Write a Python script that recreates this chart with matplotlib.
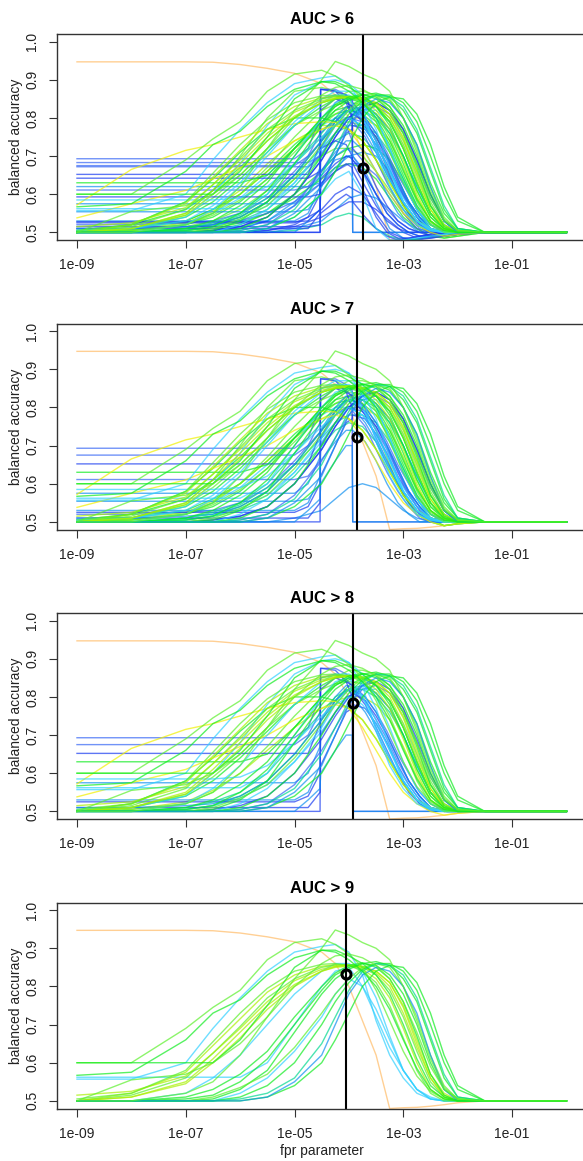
import numpy as np
import matplotlib
matplotlib.use("Agg")
import matplotlib.pyplot as plt
from matplotlib.ticker import NullLocator

plt.rcParams["font.family"] = ["Liberation Sans", "DejaVu Sans"]

# panel thresholds and the chosen operating point of each panel
THRESHOLDS = [6, 7, 8, 9]
SELECTED_FPR = [1.8e-4, 1.4e-4, 1.17e-4, 8.7e-5]
SELECTED_ACC = [0.668, 0.723, 0.783, 0.833]

X_TICKS = [1e-9, 1e-7, 1e-5, 1e-3, 1e-1]
X_TICK_LABELS = ["1e-09", "1e-07", "1e-05", "1e-03", "1e-01"]
Y_TICKS = [0.5, 0.6, 0.7, 0.8, 0.9, 1.0]
Y_TICK_LABELS = ["0.5", "0.6", "0.7", "0.8", "0.9", "1.0"]

# log10(fpr) grid for the smooth curves, and for the staircase (blue) curves
LOG_FPR = [-9, -8, -7, -6.5, -6, -5.5, -5, -4.5, -4.25, -4, -3.75, -3.5, -3.25, -3, -2.75, -2.5, -2.25, -2, -1.5, 0]
STEP_LOG_FPR = [-9, -5, -4.75, -4.53, -4.52, -4.25, -4.05, -3.94, -3.93, -3.7, -3.5, -3.3, -3.1, -2.9, -2.7,
                -2.5, -2.2, 0]

PALETTE = {"blue": "#1a3cf0", "blue2": "#3565f5", "azure": "#1090f0", "cyan": "#30d0ff",
           "teal": "#00d890", "green": "#10ec20", "lgreen": "#5cf02c", "ygreen": "#a8f000",
           "yellow": "#f0f000", "orange": "#ffc070"}

REFERENCE_ACC = [0.947, 0.947, 0.947, 0.946, 0.94, 0.93, 0.917, 0.89, 0.86, 0.80, 0.71, 0.62, 0.48,
                 0.482, 0.483, 0.486, 0.49, 0.495, 0.50, 0.50]

EARLY_ACC = [
    [0.50, 0.50, 0.52, 0.55, 0.62, 0.72, 0.82, 0.90, 0.948, 0.935, 0.915, 0.90, 0.87, 0.80, 0.71, 0.61, 0.535, 0.505, 0.50, 0.50],
    [0.60, 0.60, 0.69, 0.745, 0.79, 0.87, 0.915, 0.925, 0.91, 0.885, 0.85, 0.79, 0.71, 0.63, 0.565, 0.525, 0.505, 0.50, 0.50, 0.50],
    [0.60, 0.60, 0.60, 0.60, 0.66, 0.75, 0.85, 0.895, 0.89, 0.87, 0.84, 0.80, 0.74, 0.66, 0.585, 0.53, 0.505, 0.50, 0.50, 0.50],
    [0.567, 0.575, 0.66, 0.73, 0.765, 0.83, 0.875, 0.895, 0.895, 0.88, 0.86, 0.83, 0.78, 0.70, 0.61, 0.54, 0.51, 0.50, 0.50, 0.50],
    [0.50, 0.555, 0.57, 0.60, 0.65, 0.72, 0.80, 0.86, 0.88, 0.885, 0.875, 0.855, 0.82, 0.76, 0.68, 0.59, 0.53, 0.505, 0.50, 0.50],
]
EARLY_SCORE = [9.6, 9.4, 9.2, 9.3, 9.1]
EARLY_COLOR = ["lgreen", "lgreen", "green", "green", "lgreen"]

CYAN_ACC = [
    [0.557, 0.557, 0.60, 0.69, 0.77, 0.84, 0.89, 0.905, 0.91, 0.89, 0.83, 0.71, 0.62, 0.56, 0.52, 0.505, 0.50, 0.50, 0.50, 0.50],
    [0.562, 0.562, 0.562, 0.562, 0.562, 0.60, 0.70, 0.80, 0.84, 0.85, 0.80, 0.72, 0.64, 0.58, 0.53, 0.51, 0.50, 0.50, 0.50, 0.50],
    [0.50, 0.50, 0.50, 0.50, 0.52, 0.56, 0.63, 0.72, 0.78, 0.82, 0.80, 0.74, 0.66, 0.58, 0.53, 0.505, 0.50, 0.50, 0.50, 0.50],
    [0.50, 0.50, 0.52, 0.56, 0.62, 0.70, 0.78, 0.84, 0.86, 0.86, 0.84, 0.77, 0.67, 0.58, 0.53, 0.505, 0.50, 0.50, 0.50, 0.50],
    [0.505, 0.51, 0.54, 0.60, 0.68, 0.78, 0.86, 0.895, 0.90, 0.89, 0.86, 0.80, 0.72, 0.63, 0.56, 0.52, 0.50, 0.50, 0.50, 0.50],
    [0.505, 0.51, 0.53, 0.57, 0.63, 0.71, 0.79, 0.85, 0.87, 0.87, 0.85, 0.80, 0.72, 0.63, 0.56, 0.51, 0.50, 0.50, 0.50, 0.50],
    [0.50, 0.50, 0.50, 0.50, 0.50, 0.51, 0.54, 0.60, 0.64, 0.66, 0.60, 0.51, 0.48, 0.48, 0.485, 0.49, 0.495, 0.50, 0.50, 0.50],
    [0.585, 0.585, 0.585, 0.585, 0.59, 0.62, 0.68, 0.75, 0.78, 0.80, 0.78, 0.73, 0.66, 0.59, 0.54, 0.51, 0.50, 0.50, 0.50, 0.50],
]
CYAN_SCORE = [9.5, 9.2, 9.1, 9.3, 8.7, 7.3, 6.3, 8.2]
CYAN_COLOR = ["cyan", "cyan", "cyan", "cyan", "cyan", "cyan", "cyan", "cyan"]

BUNDLE_ACC = [
    [0.50, 0.52, 0.575, 0.645, 0.715, 0.785, 0.83, 0.853, 0.857, 0.855, 0.845, 0.82, 0.77, 0.69, 0.60, 0.53, 0.505, 0.50, 0.50, 0.50],
    [0.50, 0.515, 0.56, 0.625, 0.695, 0.77, 0.82, 0.85, 0.856, 0.857, 0.85, 0.83, 0.79, 0.72, 0.63, 0.55, 0.51, 0.50, 0.50, 0.50],
    [0.515, 0.525, 0.565, 0.625, 0.69, 0.76, 0.815, 0.845, 0.853, 0.855, 0.852, 0.835, 0.80, 0.73, 0.64, 0.56, 0.515, 0.50, 0.50, 0.50],
    [0.50, 0.51, 0.55, 0.61, 0.68, 0.75, 0.805, 0.84, 0.85, 0.853, 0.85, 0.84, 0.81, 0.75, 0.66, 0.57, 0.52, 0.502, 0.50, 0.50],
    [0.505, 0.52, 0.58, 0.655, 0.73, 0.795, 0.84, 0.858, 0.86, 0.855, 0.84, 0.81, 0.75, 0.665, 0.58, 0.52, 0.50, 0.50, 0.50, 0.50],
    [0.50, 0.51, 0.545, 0.60, 0.665, 0.74, 0.80, 0.84, 0.852, 0.856, 0.853, 0.84, 0.81, 0.745, 0.65, 0.56, 0.51, 0.50, 0.50, 0.50],
]
BUNDLE_SCORE = [9.5, 9.4, 9.3, 9.2, 9.6, 9.1]
BUNDLE_COLOR = ["ygreen", "lgreen", "ygreen", "ygreen", "lgreen", "ygreen"]

LATE_ACC = [
    [0.50, 0.50, 0.50, 0.505, 0.53, 0.58, 0.68, 0.78, 0.82, 0.845, 0.86, 0.865, 0.855, 0.82, 0.76, 0.66, 0.56, 0.51, 0.50, 0.50],
    [0.50, 0.50, 0.505, 0.515, 0.55, 0.61, 0.70, 0.79, 0.83, 0.85, 0.86, 0.855, 0.83, 0.78, 0.70, 0.60, 0.53, 0.505, 0.50, 0.50],
    [0.50, 0.50, 0.50, 0.50, 0.51, 0.54, 0.60, 0.70, 0.76, 0.81, 0.845, 0.86, 0.86, 0.84, 0.79, 0.70, 0.60, 0.53, 0.50, 0.50],
    [0.50, 0.50, 0.50, 0.51, 0.535, 0.57, 0.64, 0.73, 0.78, 0.82, 0.85, 0.86, 0.85, 0.80, 0.72, 0.62, 0.54, 0.505, 0.50, 0.50],
    [0.50, 0.50, 0.51, 0.53, 0.57, 0.63, 0.72, 0.80, 0.835, 0.855, 0.862, 0.85, 0.82, 0.76, 0.67, 0.57, 0.515, 0.50, 0.50, 0.50],
    [0.50, 0.50, 0.50, 0.50, 0.505, 0.52, 0.56, 0.65, 0.72, 0.79, 0.84, 0.86, 0.855, 0.83, 0.77, 0.67, 0.57, 0.51, 0.50, 0.50],
    [0.50, 0.50, 0.50, 0.50, 0.50, 0.51, 0.54, 0.60, 0.66, 0.73, 0.80, 0.84, 0.855, 0.85, 0.81, 0.73, 0.62, 0.54, 0.50, 0.50],
    [0.50, 0.50, 0.50, 0.50, 0.50, 0.51, 0.55, 0.62, 0.70, 0.78, 0.83, 0.85, 0.84, 0.80, 0.73, 0.62, 0.53, 0.50, 0.50, 0.50],
]
LATE_SCORE = [9.4, 9.5, 9.3, 9.2, 9.6, 9.1, 9.3, 9.2]
LATE_COLOR = ["green", "green", "green", "lgreen", "green", "teal", "green", "azure"]

MID_ACC = [
    [0.50, 0.50, 0.50, 0.50, 0.505, 0.52, 0.57, 0.66, 0.72, 0.78, 0.82, 0.83, 0.81, 0.76, 0.68, 0.59, 0.53, 0.505, 0.50, 0.50],
    [0.51, 0.51, 0.515, 0.52, 0.54, 0.58, 0.65, 0.74, 0.79, 0.82, 0.83, 0.81, 0.77, 0.70, 0.62, 0.55, 0.51, 0.50, 0.50, 0.50],
    [0.50, 0.50, 0.51, 0.525, 0.55, 0.60, 0.68, 0.76, 0.80, 0.82, 0.82, 0.80, 0.76, 0.70, 0.62, 0.55, 0.51, 0.50, 0.50, 0.50],
    [0.50, 0.51, 0.54, 0.58, 0.64, 0.71, 0.78, 0.83, 0.85, 0.855, 0.85, 0.83, 0.79, 0.72, 0.63, 0.55, 0.51, 0.50, 0.50, 0.50],
    [0.50, 0.505, 0.52, 0.55, 0.60, 0.67, 0.75, 0.82, 0.85, 0.87, 0.87, 0.86, 0.83, 0.77, 0.68, 0.58, 0.52, 0.50, 0.50, 0.50],
    [0.50, 0.52, 0.58, 0.64, 0.71, 0.77, 0.80, 0.80, 0.79, 0.77, 0.74, 0.69, 0.63, 0.57, 0.53, 0.51, 0.50, 0.50, 0.50, 0.50],
    [0.63, 0.63, 0.63, 0.63, 0.63, 0.65, 0.72, 0.80, 0.83, 0.85, 0.85, 0.83, 0.79, 0.72, 0.63, 0.55, 0.51, 0.50, 0.50, 0.50],
    [0.572, 0.665, 0.715, 0.73, 0.75, 0.77, 0.785, 0.79, 0.788, 0.77, 0.72, 0.66, 0.60, 0.55, 0.52, 0.50, 0.49, 0.495, 0.50, 0.50],
    [0.538, 0.575, 0.61, 0.64, 0.67, 0.70, 0.74, 0.77, 0.78, 0.77, 0.74, 0.69, 0.63, 0.57, 0.53, 0.51, 0.50, 0.50, 0.50, 0.50],
    [0.50, 0.50, 0.50, 0.505, 0.515, 0.54, 0.60, 0.69, 0.75, 0.80, 0.83, 0.84, 0.82, 0.77, 0.69, 0.60, 0.53, 0.50, 0.50, 0.50],
]
MID_SCORE = [8.5, 8.3, 8.1, 8.6, 8.4, 8.8, 8.5, 8.1, 8.05, 8.7]
MID_COLOR = ["blue2", "azure", "teal", "green", "lgreen", "green", "green", "yellow", "yellow", "blue"]

FILL_ACC = [
    [0.50, 0.51, 0.53, 0.56, 0.60, 0.66, 0.73, 0.79, 0.81, 0.82, 0.81, 0.78, 0.72, 0.64, 0.56, 0.51, 0.49, 0.495, 0.50, 0.50],
    [0.50, 0.505, 0.515, 0.53, 0.56, 0.61, 0.68, 0.75, 0.78, 0.79, 0.78, 0.75, 0.69, 0.61, 0.54, 0.50, 0.485, 0.49, 0.50, 0.50],
    [0.505, 0.52, 0.56, 0.61, 0.67, 0.74, 0.80, 0.84, 0.85, 0.85, 0.84, 0.81, 0.76, 0.68, 0.59, 0.53, 0.50, 0.50, 0.50, 0.50],
    [0.50, 0.50, 0.51, 0.52, 0.545, 0.59, 0.65, 0.72, 0.76, 0.78, 0.78, 0.76, 0.71, 0.64, 0.57, 0.52, 0.50, 0.50, 0.50, 0.50],
    [0.50, 0.51, 0.545, 0.59, 0.65, 0.72, 0.78, 0.82, 0.835, 0.84, 0.835, 0.81, 0.77, 0.70, 0.61, 0.54, 0.505, 0.50, 0.50, 0.50],
    [0.50, 0.50, 0.505, 0.51, 0.525, 0.55, 0.59, 0.64, 0.67, 0.68, 0.67, 0.64, 0.59, 0.54, 0.51, 0.49, 0.485, 0.49, 0.50, 0.50],
    [0.50, 0.50, 0.50, 0.505, 0.51, 0.53, 0.57, 0.63, 0.67, 0.70, 0.71, 0.70, 0.66, 0.60, 0.54, 0.50, 0.49, 0.495, 0.50, 0.50],
    [0.505, 0.51, 0.525, 0.55, 0.59, 0.65, 0.72, 0.78, 0.80, 0.80, 0.78, 0.73, 0.66, 0.58, 0.53, 0.50, 0.50, 0.50, 0.50, 0.50],
    [0.50, 0.505, 0.525, 0.555, 0.60, 0.66, 0.72, 0.77, 0.79, 0.80, 0.80, 0.78, 0.74, 0.67, 0.59, 0.53, 0.50, 0.50, 0.50, 0.50],
    [0.50, 0.50, 0.50, 0.50, 0.50, 0.505, 0.515, 0.54, 0.56, 0.58, 0.58, 0.56, 0.53, 0.50, 0.485, 0.485, 0.49, 0.495, 0.50, 0.50],
    [0.50, 0.50, 0.505, 0.515, 0.54, 0.58, 0.65, 0.74, 0.79, 0.83, 0.85, 0.86, 0.845, 0.80, 0.73, 0.63, 0.55, 0.51, 0.50, 0.50],
    [0.50, 0.505, 0.52, 0.545, 0.585, 0.64, 0.71, 0.78, 0.81, 0.83, 0.835, 0.83, 0.80, 0.74, 0.66, 0.57, 0.52, 0.50, 0.50, 0.50],
    [0.51, 0.51, 0.515, 0.52, 0.53, 0.55, 0.58, 0.63, 0.66, 0.68, 0.68, 0.65, 0.60, 0.55, 0.51, 0.49, 0.49, 0.495, 0.50, 0.50],
    [0.50, 0.50, 0.505, 0.515, 0.535, 0.57, 0.63, 0.71, 0.76, 0.80, 0.82, 0.82, 0.79, 0.73, 0.65, 0.57, 0.52, 0.50, 0.50, 0.50],
]
FILL_SCORE = [7.5, 6.8, 7.9, 7.2, 8.3, 6.6, 7.0, 7.6, 8.2, 6.3, 8.8, 7.4, 6.9, 8.4]
FILL_COLOR = ["green", "lgreen", "green", "teal", "lgreen", "green", "azure", "cyan", "ygreen", "blue",
              "green", "lgreen", "blue2", "cyan"]

LOW_ACC = [
    [0.50, 0.50, 0.50, 0.50, 0.50, 0.505, 0.52, 0.56, 0.60, 0.62, 0.60, 0.55, 0.50, 0.485, 0.48, 0.485, 0.49, 0.495, 0.50, 0.50],
    [0.50, 0.50, 0.50, 0.50, 0.51, 0.53, 0.58, 0.65, 0.69, 0.70, 0.66, 0.58, 0.51, 0.485, 0.482, 0.487, 0.492, 0.497, 0.50, 0.50],
    [0.50, 0.50, 0.505, 0.515, 0.53, 0.56, 0.62, 0.70, 0.74, 0.76, 0.75, 0.71, 0.64, 0.57, 0.52, 0.50, 0.49, 0.495, 0.50, 0.50],
    [0.52, 0.52, 0.525, 0.53, 0.55, 0.59, 0.66, 0.74, 0.78, 0.80, 0.79, 0.75, 0.68, 0.60, 0.54, 0.51, 0.50, 0.50, 0.50, 0.50],
    [0.50, 0.505, 0.52, 0.54, 0.58, 0.64, 0.72, 0.79, 0.82, 0.83, 0.82, 0.79, 0.73, 0.65, 0.57, 0.52, 0.50, 0.50, 0.50, 0.50],
    [0.50, 0.50, 0.51, 0.52, 0.54, 0.58, 0.64, 0.70, 0.72, 0.72, 0.70, 0.66, 0.61, 0.56, 0.52, 0.50, 0.49, 0.495, 0.50, 0.50],
    [0.50, 0.50, 0.50, 0.50, 0.50, 0.50, 0.51, 0.53, 0.56, 0.59, 0.60, 0.59, 0.56, 0.53, 0.51, 0.50, 0.50, 0.50, 0.50, 0.50],
    [0.50, 0.50, 0.50, 0.505, 0.52, 0.55, 0.60, 0.66, 0.70, 0.72, 0.73, 0.72, 0.69, 0.63, 0.56, 0.51, 0.49, 0.495, 0.50, 0.50],
    [0.50, 0.50, 0.50, 0.505, 0.515, 0.54, 0.60, 0.69, 0.75, 0.80, 0.83, 0.84, 0.82, 0.77, 0.69, 0.60, 0.53, 0.50, 0.50, 0.50],
    [0.50, 0.51, 0.53, 0.56, 0.61, 0.68, 0.74, 0.78, 0.78, 0.77, 0.74, 0.69, 0.62, 0.55, 0.51, 0.49, 0.49, 0.495, 0.50, 0.50],
    [0.50, 0.51, 0.55, 0.61, 0.70, 0.80, 0.87, 0.88, 0.87, 0.85, 0.81, 0.74, 0.65, 0.57, 0.52, 0.50, 0.49, 0.495, 0.50, 0.50],
    [0.50, 0.50, 0.50, 0.50, 0.50, 0.50, 0.505, 0.52, 0.54, 0.55, 0.54, 0.51, 0.49, 0.48, 0.482, 0.49, 0.495, 0.50, 0.50, 0.50],
]
LOW_SCORE = [6.5, 6.8, 7.2, 7.4, 7.6, 6.9, 7.1, 6.6, 7.7, 6.4, 7.8, 6.2]
LOW_COLOR = ["blue", "azure", "teal", "blue2", "green", "lgreen", "azure", "green", "blue", "ygreen", "lgreen", "teal"]

STEP_ACC = [
    [0.693, 0.693, 0.72, 0.80, 0.875, 0.875, 0.86, 0.845, 0.83, 0.80, 0.76, 0.71, 0.65, 0.60, 0.55, 0.52, 0.50, 0.50],
    [0.675, 0.675, 0.70, 0.76, 0.85, 0.86, 0.845, 0.83, 0.82, 0.79, 0.74, 0.69, 0.63, 0.58, 0.54, 0.51, 0.50, 0.50],
    [0.652, 0.652, 0.652, 0.73, 0.82, 0.85, 0.84, 0.83, 0.82, 0.78, 0.72, 0.66, 0.60, 0.55, 0.52, 0.505, 0.50, 0.50],
    [0.525, 0.525, 0.54, 0.60, 0.70, 0.76, 0.80, 0.805, 0.81, 0.79, 0.75, 0.70, 0.64, 0.58, 0.54, 0.51, 0.50, 0.50],
    [0.51, 0.51, 0.51, 0.55, 0.62, 0.70, 0.76, 0.77, 0.78, 0.77, 0.73, 0.68, 0.62, 0.57, 0.53, 0.505, 0.50, 0.50],
    [0.575, 0.575, 0.60, 0.67, 0.74, 0.80, 0.83, 0.825, 0.82, 0.80, 0.76, 0.70, 0.64, 0.58, 0.54, 0.51, 0.50, 0.50],
    [0.53, 0.53, 0.55, 0.62, 0.72, 0.79, 0.82, 0.81, 0.80, 0.76, 0.71, 0.65, 0.60, 0.56, 0.52, 0.50, 0.50, 0.50],
    [0.50, 0.50, 0.50, 0.50, 0.875, 0.87, 0.84, 0.80, 0.50, 0.50, 0.50, 0.50, 0.50, 0.50, 0.50, 0.50, 0.50, 0.50],
    [0.50, 0.50, 0.53, 0.56, 0.60, 0.66, 0.70, 0.70, 0.50, 0.50, 0.50, 0.50, 0.50, 0.50, 0.50, 0.50, 0.50, 0.50],
    [0.683, 0.683, 0.683, 0.70, 0.76, 0.80, 0.78, 0.74, 0.70, 0.65, 0.60, 0.56, 0.53, 0.51, 0.50, 0.50, 0.50, 0.50],
    [0.642, 0.642, 0.642, 0.66, 0.72, 0.74, 0.73, 0.70, 0.68, 0.62, 0.57, 0.53, 0.51, 0.50, 0.50, 0.49, 0.50, 0.50],
    [0.62, 0.62, 0.62, 0.63, 0.66, 0.70, 0.72, 0.71, 0.70, 0.66, 0.60, 0.55, 0.52, 0.50, 0.49, 0.49, 0.50, 0.50],
    [0.611, 0.611, 0.62, 0.66, 0.72, 0.78, 0.80, 0.795, 0.79, 0.75, 0.69, 0.63, 0.58, 0.54, 0.51, 0.50, 0.50, 0.50],
    [0.593, 0.593, 0.593, 0.60, 0.64, 0.68, 0.70, 0.695, 0.69, 0.65, 0.60, 0.55, 0.52, 0.50, 0.49, 0.49, 0.50, 0.50],
    [0.554, 0.554, 0.56, 0.60, 0.66, 0.71, 0.74, 0.74, 0.74, 0.71, 0.66, 0.60, 0.55, 0.52, 0.50, 0.50, 0.50, 0.50],
    [0.515, 0.515, 0.515, 0.52, 0.55, 0.58, 0.60, 0.59, 0.58, 0.54, 0.51, 0.49, 0.48, 0.485, 0.49, 0.495, 0.50, 0.50],
    [0.672, 0.672, 0.672, 0.70, 0.78, 0.84, 0.86, 0.85, 0.84, 0.80, 0.74, 0.67, 0.60, 0.55, 0.52, 0.50, 0.50, 0.50],
    [0.528, 0.528, 0.53, 0.56, 0.62, 0.66, 0.68, 0.67, 0.66, 0.60, 0.54, 0.50, 0.485, 0.485, 0.49, 0.495, 0.50, 0.50],
    [0.50, 0.50, 0.50, 0.50, 0.875, 0.87, 0.86, 0.80, 0.72, 0.68, 0.62, 0.57, 0.53, 0.51, 0.50, 0.50, 0.50, 0.50],
]
STEP_SCORE = [8.3, 8.2, 8.4, 8.1, 8.05, 8.6, 8.3, 8.2, 8.1, 6.4, 6.7, 6.2, 7.3, 6.9, 7.5, 6.1, 7.0, 6.5, 6.05]
STEP_COLOR = ["blue2", "blue2", "blue", "blue", "blue", "azure", "azure", "blue", "azure", "blue2",
              "blue", "azure", "blue2", "blue", "azure", "blue", "blue2", "blue", "blue"]

fpr = np.power(10.0, LOG_FPR)
step_fpr = np.power(10.0, STEP_LOG_FPR)

W, H = 583, 1161
fig = plt.figure(figsize=(W / 100, H / 100), dpi=100)
panel_tops = [34, 323.5, 613, 902.5]
box_left, box_right, box_h = 57.4, 586.0, 206.0
LW, ALPHA = 1.0, 0.7

for k, threshold in enumerate(THRESHOLDS):
    top = panel_tops[k]
    ax = fig.add_axes([box_left / W, 1 - (top + box_h) / H, (box_right - box_left) / W, box_h / H])
    ax.set_xscale("log")
    ax.plot(fpr, REFERENCE_ACC, color=PALETTE["orange"], lw=LW, alpha=0.75)
    for accs, scores, colors in [(LOW_ACC, LOW_SCORE, LOW_COLOR), (FILL_ACC, FILL_SCORE, FILL_COLOR)]:
        for acc, score, col in zip(accs, scores, colors):
            if score > threshold:
                ax.plot(fpr, acc, color=PALETTE[col], lw=LW, alpha=ALPHA)
    for acc, score, col in zip(STEP_ACC, STEP_SCORE, STEP_COLOR):
        if score > threshold:
            ax.plot(step_fpr, acc, color=PALETTE[col], lw=LW, alpha=ALPHA)
    for accs, scores, colors in [(MID_ACC, MID_SCORE, MID_COLOR), (CYAN_ACC, CYAN_SCORE, CYAN_COLOR),
                                 (BUNDLE_ACC, BUNDLE_SCORE, BUNDLE_COLOR), (LATE_ACC, LATE_SCORE, LATE_COLOR),
                                 (EARLY_ACC, EARLY_SCORE, EARLY_COLOR)]:
        for acc, score, col in zip(accs, scores, colors):
            if score > threshold:
                ax.plot(fpr, acc, color=PALETTE[col], lw=LW, alpha=ALPHA)

    ax.axvline(SELECTED_FPR[k], color="black", lw=1.5)
    ax.plot(SELECTED_FPR[k], SELECTED_ACC[k], "o", ms=6.5, mfc="none", mec="black", mew=2.2)

    ax.set_xlim(10 ** -9.36, 10 ** 0.36)
    ax.set_ylim(0.48, 1.02)
    ax.set_xticks(X_TICKS)
    ax.set_xticklabels(X_TICK_LABELS)
    ax.xaxis.set_minor_locator(NullLocator())
    ax.set_yticks(Y_TICKS)
    ax.set_yticklabels(Y_TICK_LABELS, rotation=90, va="center")
    ax.tick_params(axis="both", direction="out", length=5.8, width=0.8, colors="#333333", labelsize=10,
                   labelcolor="#222222")
    ax.tick_params(axis="x", pad=7.4)
    ax.tick_params(axis="y", pad=7.2)
    for side in ax.spines.values():
        side.set_color("#333333")
        side.set_linewidth(1.0)
    ax.set_title(f"AUC > {threshold}", fontsize=12, fontweight="bold", pad=7)
    fig.text(16 / W, 1 - (top + box_h / 2) / H, "balanced accuracy", rotation=90,
             ha="center", va="center", fontsize=10, color="#222222")

fig.text((box_left + box_right) / 2 / W, 1 - 1151 / H, "fpr parameter", ha="center", va="center",
         fontsize=10, color="#222222")

fig.savefig("out.png", dpi=100)
